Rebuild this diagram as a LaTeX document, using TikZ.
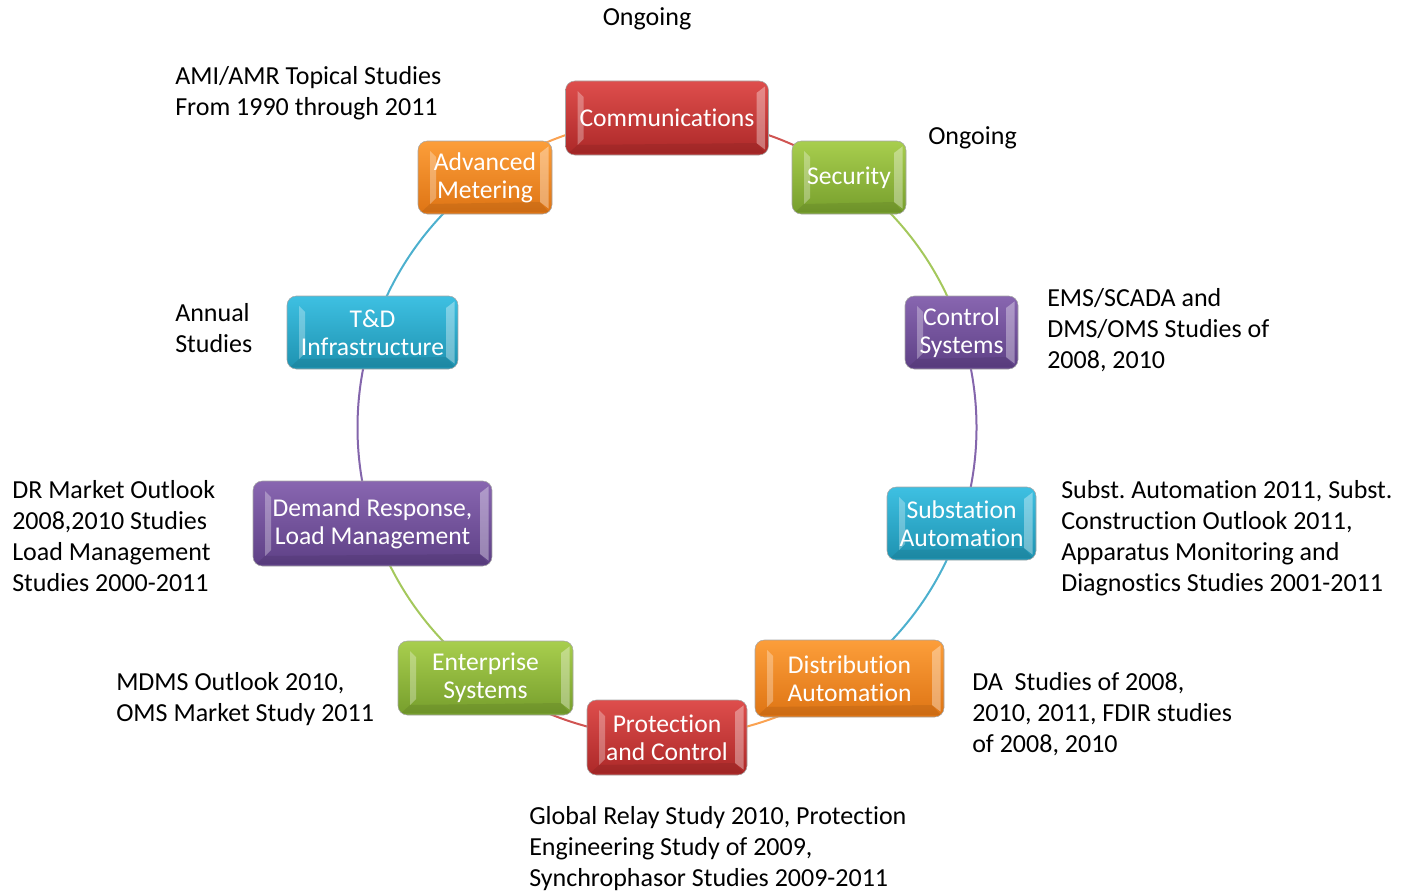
\documentclass[tikz,border=0pt]{standalone}
\usepackage{fontspec}
\setmainfont{Carlito}[Ligatures=NoCommon]
\frenchspacing
\newcommand{\boxfont}{\fontsize{19.2}{21}\selectfont}
\newcommand{\labfont}{\fontsize{19.5}{23.25}\selectfont}
\definecolor{rTop}{RGB}{222,78,76}\definecolor{rBot}{RGB}{172,40,40}
\definecolor{gTop}{RGB}{168,206,78}\definecolor{gBot}{RGB}{118,158,44}
\definecolor{pTop}{RGB}{136,102,176}\definecolor{pBot}{RGB}{94,64,134}
\definecolor{cTop}{RGB}{62,192,226}\definecolor{cBot}{RGB}{30,146,176}
\definecolor{oTop}{RGB}{252,158,58}\definecolor{oBot}{RGB}{222,116,20}
\definecolor{rLine}{RGB}{208,84,82}
\definecolor{gLine}{RGB}{164,200,92}
\definecolor{pLine}{RGB}{132,102,172}
\definecolor{cLine}{RGB}{76,176,206}
\definecolor{oLine}{RGB}{250,162,82}
\tikzset{
  box/.style 2 args={rectangle,rounded corners=7pt,minimum width=#1,minimum height=#2,
    inner sep=0pt,align=center,text=white,font=\boxfont,draw=black!35,line width=0.4pt,
    path picture={
      \fill[white,opacity=0.3,sharp corners] ([shift={(9pt,-7.5pt)}]path picture bounding box.north west)
        -- ([shift={(13.5pt,-12pt)}]path picture bounding box.north west)
        -- ([shift={(13.5pt,12pt)}]path picture bounding box.south west)
        -- ([shift={(9pt,7.5pt)}]path picture bounding box.south west) -- cycle;
      \fill[white,opacity=0.35,sharp corners] ([shift={(-9pt,-9pt)}]path picture bounding box.north east)
        -- ([shift={(-2.5pt,-4pt)}]path picture bounding box.north east)
        -- ([shift={(-2.5pt,4pt)}]path picture bounding box.south east)
        -- ([shift={(-9pt,9pt)}]path picture bounding box.south east) -- cycle;
      \fill[black,opacity=0.08,sharp corners] ([shift={(9pt,7.5pt)}]path picture bounding box.south west)
        -- ([shift={(-9pt,9pt)}]path picture bounding box.south east)
        -- ([shift={(-2.5pt,1.5pt)}]path picture bounding box.south east)
        -- ([shift={(2.5pt,1.5pt)}]path picture bounding box.south west) -- cycle;
    }},
  redbox/.style={top color=rTop,bottom color=rBot},
  greenbox/.style={top color=gTop,bottom color=gBot},
  purplebox/.style={top color=pTop,bottom color=pBot},
  cyanbox/.style={top color=cTop,bottom color=cBot},
  orangebox/.style={top color=oTop,bottom color=oBot},
  link/.style={line width=1.5pt},
  lab/.style={align=left,anchor=base west,inner sep=0pt,font=\labfont,text=black}
}
\newcommand{\ringarc}[3]{\draw[link,#1] (ctr) ++(-#2:309.5) arc[start angle=-#2,end angle=-#3,radius=309.5];}
\begin{document}
\begin{tikzpicture}[x=0.75pt,y=-0.75pt]
\useasboundingbox (0,0) rectangle (1405,892);
\coordinate (ctr) at (667,427.5);
% connectors: ring arcs (clockwise, colour of the source box), hidden under the boxes
\ringarc{rLine}{90}{54}
\ringarc{gLine}{54}{18}
\ringarc{pLine}{18}{-18}
\ringarc{cLine}{-18}{-54}
\ringarc{oLine}{-54}{-90}
\ringarc{rLine}{-90}{-126}
\ringarc{gLine}{-126}{-162}
\ringarc{pLine}{-162}{-198}
\ringarc{cLine}{-198}{-234}
\ringarc{oLine}{-234}{-270}
% boxes
\node[box={152.25pt}{55.5pt},redbox] (comm) at (667,118) {Communications};
\node[box={85.5pt}{54.75pt},greenbox] (sec) at (849,177.5) {Security};
\node[box={84.75pt}{54.75pt},purplebox] (ctrl) at (961.5,332.5) {Control\\Systems};
\node[box={111.75pt}{54.75pt},cyanbox] (sub) at (961.5,523.5) {Substation\\Automation};
\node[box={141.75pt}{57.75pt},orangebox] (da) at (849.5,678.5) {Distribution\\Automation};
\node[box={120pt}{56.25pt},redbox] (prot) at (667,737.5) {Protection\\and Control};
\node[box={131.25pt}{55.5pt},greenbox] (ent) at (485.5,678) {Enterprise\\Systems};
\node[box={179.25pt}{63.75pt},purplebox] (dr) at (372.5,523.5) {Demand Response,\\Load Management};
\node[box={128.25pt}{54.75pt},cyanbox] (td) at (372.5,332.5) {T\&D\\Infrastructure};
\node[box={100.5pt}{54.75pt},orangebox] (ami) at (485,177.5) {Advanced\\Metering};
% labels (anchor = baseline of last line)
\node[lab,anchor=base] (lcomm) at (647,26) {Ongoing};
\node[lab] (lsec) at (928,144) {Ongoing};
\node[lab] (lami) at (175,115) {AMI/AMR Topical Studies\\From 1990 through 2011};
\node[lab] (ltd) at (175,352) {Annual\\Studies};
\node[lab] (lctrl) at (1047,368) {EMS/SCADA and\\DMS/OMS Studies of\\2008, 2010};
\node[lab] (ldr) at (12,591) {DR Market Outlook\\2008,2010 Studies\\Load Management\\Studies 2000-2011};
\node[lab] (lsub) at (1061,591) {Subst. Automation 2011, Subst.\\Construction Outlook 2011,\\Apparatus Monitoring and\\Diagnostics Studies 2001-2011};
\node[lab] (lent) at (116,721) {MDMS Outlook 2010,\\OMS Market Study 2011};
\node[lab] (lda) at (972,752) {DA\ \ Studies of 2008,\\2010, 2011, FDIR studies\\of 2008, 2010};
\node[lab] (lprot) at (529,886) {Global Relay Study 2010, Protection\\Engineering Study of 2009,\\Synchrophasor Studies 2009-2011};
\end{tikzpicture}
\end{document}
